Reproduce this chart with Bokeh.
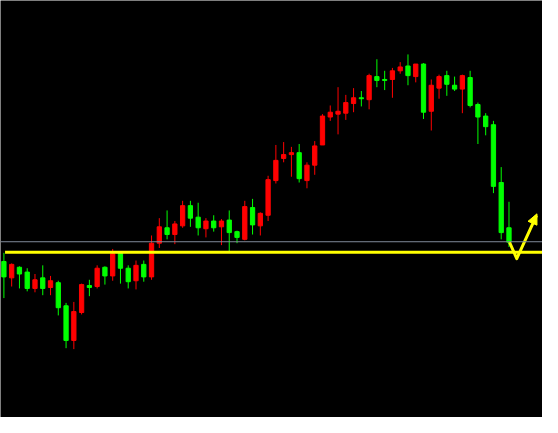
from bokeh.plotting import figure
from bokeh.models import Range1d, ColumnDataSource, Span
from bokeh.embed import file_html
from bokeh.resources import INLINE

# Candle data (price levels)
idx = list(range(66))
opens = [162, 145, 156, 151, 134, 145, 135, 140, 116, 80,
         109, 137, 136, 156, 147, 171, 155, 142, 159, 146,
         181, 197, 190, 199, 220, 208, 196, 204, 198, 205,
         193, 185, 218, 199, 210, 246, 269, 273, 275, 246,
         262, 283, 312, 315, 316, 326, 332, 330, 354, 351,
         351, 360, 365, 354, 367, 318, 342, 355, 345, 341,
         353, 325, 313, 304, 244, 197]
closes = [146, 159, 149, 134, 143, 134, 142, 114, 80, 110,
          138, 135, 155, 147, 170, 155, 141, 158, 146, 181,
          198, 190, 201, 220, 207, 197, 204, 197, 204, 192,
          187, 219, 200, 212, 247, 267, 273, 275, 248, 262,
          282, 313, 317, 318, 327, 332, 331, 355, 350, 350,
          360, 364, 355, 367, 317, 345, 354, 346, 341, 355,
          324, 312, 302, 240, 192, 182]
highs = [171, 160, 157, 155, 149, 158, 147, 142, 119, 120,
         139, 143, 158, 157, 175, 172, 158, 163, 163, 189,
         207, 215, 204, 225, 225, 223, 207, 210, 206, 215,
         194, 225, 227, 213, 251, 283, 286, 281, 284, 265,
         287, 315, 324, 343, 335, 342, 339, 357, 372, 360,
         363, 369, 377, 367, 368, 351, 356, 360, 354, 356,
         360, 327, 316, 308, 260, 224]
lows = [124, 136, 134, 131, 130, 127, 127, 106, 72, 71,
        107, 126, 134, 138, 142, 139, 134, 133, 141, 143,
        176, 185, 180, 197, 198, 189, 187, 193, 179, 171,
        181, 184, 190, 189, 204, 243, 265, 250, 244, 238,
        252, 283, 308, 294, 309, 317, 323, 320, 343, 340,
        332, 357, 345, 348, 310, 298, 331, 334, 339, 316,
        322, 284, 293, 233, 185, 177]

support_level = 171.5
gray_level = 182.5
arrow_x = [65.06, 66.0, 68.55]
arrow_y = [182, 165, 210]
head_x = [67.45, 68.6, 68.6]
head_y = [203.7, 211.5, 199.7]

UP = "#ff0000"
DOWN = "#00ff00"
colors = [UP if c > o else DOWN for o, c in zip(opens, closes)]
tops = [max(o, c) for o, c in zip(opens, closes)]
bottoms = [min(o, c) for o, c in zip(opens, closes)]

src = ColumnDataSource(dict(x=idx, o=opens, c=closes, h=highs, l=lows,
                            top=tops, bottom=bottoms, color=colors))

p = figure(width=542, height=417, output_backend="svg", toolbar_location=None,
           x_axis_type=None, y_axis_type=None,
           x_range=Range1d(-0.4375, 69.3125), y_range=Range1d(0, 433),
           background_fill_color="black", border_fill_color="black",
           min_border=0, outline_line_color=None)
p.grid.visible = False

p.add_layout(Span(location=gray_level, dimension="width",
                  line_color="#7f8a99", line_width=1))

p.segment(x0="x", y0="l", x1="x", y1="h", color="color", line_width=1, source=src)
p.vbar(x="x", width=0.55, top="top", bottom="bottom", fill_color="color",
       line_color="color", line_width=1, source=src)

p.segment(x0=[0.15], y0=[support_level], x1=[70], y1=[support_level],
          line_color="#ffff00", line_width=3)
p.line(arrow_x, arrow_y, line_color="#ffff00", line_width=3, line_join="round")
p.patch(head_x, head_y, fill_color="#ffff00", line_color="#ffff00", line_width=1)

open("out.html", "w").write(file_html(p, INLINE))
